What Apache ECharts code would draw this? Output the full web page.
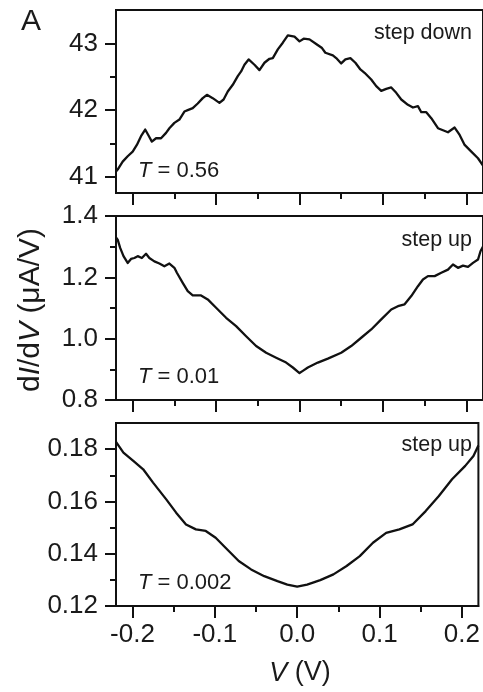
<!DOCTYPE html>
<html>
<head>
<meta charset="utf-8">
<script src="https://cdn.jsdelivr.net/npm/echarts@6/dist/echarts.min.js"></script>
<style>
  html, body { margin: 0; padding: 0; background: #fff; }
  #chart { width: 483px; height: 692px; }
</style>
</head>
<body>
<div id="chart"></div>
<script>
// Bias voltage (V) and differential conductance dI/dV (uA/V) for three transmissions
const vTop = [-0.22, -0.218, -0.212, -0.206, -0.200, -0.195, -0.190, -0.185, -0.181, -0.177, -0.172, -0.166, -0.160, -0.156, -0.150, -0.144, -0.138, -0.134, -0.128, -0.122, -0.116, -0.111, -0.104, -0.096, -0.091, -0.086, -0.080, -0.074, -0.070, -0.066, -0.061, -0.054, -0.048, -0.042, -0.036, -0.032, -0.026, -0.020, -0.014, -0.006, 0.0, 0.005, 0.012, 0.020, 0.027, 0.031, 0.040, 0.044, 0.050, 0.055, 0.061, 0.067, 0.073, 0.078, 0.086, 0.092, 0.098, 0.104, 0.110, 0.116, 0.122, 0.130, 0.136, 0.142, 0.146, 0.152, 0.158, 0.166, 0.172, 0.178, 0.186, 0.192, 0.198, 0.206, 0.214, 0.22];
const gTop = [41.08, 41.11, 41.23, 41.31, 41.38, 41.48, 41.61, 41.71, 41.62, 41.53, 41.58, 41.58, 41.66, 41.73, 41.81, 41.86, 41.98, 42.00, 42.03, 42.10, 42.18, 42.23, 42.18, 42.11, 42.16, 42.28, 42.38, 42.51, 42.58, 42.68, 42.76, 42.68, 42.60, 42.71, 42.77, 42.78, 42.91, 43.01, 43.12, 43.10, 43.03, 43.07, 43.06, 42.99, 42.93, 42.86, 42.82, 42.78, 42.70, 42.76, 42.78, 42.71, 42.61, 42.56, 42.46, 42.36, 42.29, 42.32, 42.34, 42.26, 42.16, 42.08, 42.04, 42.06, 41.97, 41.97, 41.88, 41.73, 41.70, 41.67, 41.74, 41.63, 41.48, 41.38, 41.28, 41.17];

const vMid = [-0.22, -0.218, -0.215, -0.211, -0.206, -0.202, -0.198, -0.194, -0.189, -0.184, -0.180, -0.174, -0.168, -0.162, -0.156, -0.150, -0.147, -0.140, -0.134, -0.128, -0.118, -0.110, -0.100, -0.088, -0.076, -0.064, -0.052, -0.040, -0.028, -0.016, -0.008, 0.0, 0.004, 0.010, 0.022, 0.034, 0.050, 0.062, 0.074, 0.086, 0.098, 0.110, 0.118, 0.126, 0.134, 0.142, 0.148, 0.154, 0.162, 0.170, 0.178, 0.184, 0.190, 0.196, 0.202, 0.208, 0.214, 0.217, 0.22];
const gMid = [1.330, 1.323, 1.296, 1.269, 1.247, 1.260, 1.263, 1.269, 1.263, 1.277, 1.263, 1.252, 1.245, 1.236, 1.245, 1.231, 1.215, 1.182, 1.155, 1.141, 1.141, 1.128, 1.101, 1.068, 1.041, 1.008, 0.976, 0.954, 0.938, 0.922, 0.906, 0.888, 0.895, 0.906, 0.922, 0.935, 0.954, 0.976, 1.003, 1.030, 1.063, 1.095, 1.106, 1.112, 1.139, 1.171, 1.193, 1.204, 1.204, 1.215, 1.225, 1.242, 1.231, 1.238, 1.234, 1.247, 1.258, 1.285, 1.300];

const vLow = [-0.22, -0.211, -0.199, -0.187, -0.175, -0.159, -0.147, -0.135, -0.123, -0.111, -0.099, -0.087, -0.071, -0.056, -0.040, -0.024, -0.012, 0.0, 0.012, 0.028, 0.044, 0.060, 0.076, 0.092, 0.108, 0.124, 0.140, 0.156, 0.172, 0.188, 0.204, 0.214, 0.22];
const gLow = [0.1828, 0.1787, 0.1755, 0.1723, 0.1672, 0.1608, 0.1557, 0.1512, 0.1493, 0.1487, 0.1461, 0.1423, 0.1372, 0.1340, 0.1314, 0.1295, 0.1282, 0.1274, 0.1282, 0.1299, 0.1321, 0.1353, 0.1391, 0.1442, 0.1480, 0.1493, 0.1512, 0.1563, 0.1621, 0.1685, 0.1736, 0.1774, 0.1814];

// Tick positions
const xMajorTicks = [-0.2, -0.1, 0.0, 0.1, 0.2];
const xMinorTicks = [-0.15, -0.05, 0.05, 0.15];
const yTicksTop = [41, 42, 43];
const yMinorTop = [41.5, 42.5];
const yTicksMid = [0.8, 1.0, 1.2, 1.4];
const yMinorMid = [0.9, 1.1, 1.3];
const yTicksLow = [0.12, 0.14, 0.16, 0.18];
const yMinorLow = [0.13, 0.15, 0.17];

// Panel annotations
const panelModes = ['step down', 'step up', 'step up'];
const panelT = ['0.56', '0.01', '0.002'];

const INK = '#111111';
const FONT = 'Liberation Sans, Arial, sans-serif';

const panels = [
  { top: 10, height: 183, min: 40.76, max: 43.5, ticks: yTicksTop, minor: yMinorTop, digits: 0, v: vTop, g: gTop },
  { top: 216, height: 184, min: 0.8, max: 1.4, ticks: yTicksMid, minor: yMinorMid, digits: 1, v: vMid, g: gMid },
  { top: 423, height: 183, min: 0.12, max: 0.19, ticks: yTicksLow, minor: yMinorLow, digits: 2, v: vLow, g: gLow }
];

const grid = [], xAxis = [], yAxis = [], series = [];
panels.forEach((p, i) => {
  // the frame's right side runs just past the page edge
  grid.push({ left: 116, right: -1, top: p.top, height: p.height, show: true,
              borderColor: INK, borderWidth: 2, backgroundColor: 'transparent' });
  const lastPanel = i === panels.length - 1;
  // major x ticks (with labels on the bottom panel)
  xAxis.push({
    type: 'value', gridIndex: i, min: -0.22, max: 0.22, position: 'bottom',
    axisLine: { show: true, onZero: false, lineStyle: { color: INK, width: 2 } },
    axisTick: { show: true, customValues: xMajorTicks, length: 12, lineStyle: { color: INK, width: 2 } },
    axisLabel: { show: lastPanel, customValues: xMajorTicks, margin: 16,
                 formatter: v => v.toFixed(1), color: '#1a1a1a', fontSize: 26, fontFamily: FONT },
    splitLine: { show: false }
  });
  // minor x ticks
  xAxis.push({
    type: 'value', gridIndex: i, min: -0.22, max: 0.22, position: 'bottom',
    axisLine: { show: false, onZero: false },
    axisTick: { show: true, customValues: xMinorTicks, length: 6, lineStyle: { color: INK, width: 2 } },
    axisLabel: { show: false },
    splitLine: { show: false }
  });
  // major y ticks with labels
  yAxis.push({
    type: 'value', gridIndex: i, min: p.min, max: p.max, position: 'left',
    axisLine: { show: true, onZero: false, lineStyle: { color: INK, width: 2 } },
    axisTick: { show: true, customValues: p.ticks, length: 11, lineStyle: { color: INK, width: 2 } },
    axisLabel: { show: true, customValues: p.ticks, margin: 18,
                 formatter: v => v.toFixed(p.digits), color: '#1a1a1a', fontSize: 26, fontFamily: FONT },
    splitLine: { show: false }
  });
  // minor y ticks
  yAxis.push({
    type: 'value', gridIndex: i, min: p.min, max: p.max, position: 'left',
    axisLine: { show: false, onZero: false },
    axisTick: { show: true, customValues: p.minor, length: 6, lineStyle: { color: INK, width: 2 } },
    axisLabel: { show: false },
    splitLine: { show: false }
  });
  series.push({
    type: 'line', xAxisIndex: 2 * i, yAxisIndex: 2 * i,
    data: p.v.map((v, k) => [v, p.g[k]]),
    showSymbol: false, smooth: false,
    lineStyle: { color: INK, width: 2.3, join: 'round' },
    clip: true, animation: false
  });
});

const textStyleBase = { fill: '#1a1a1a', fontFamily: FONT };
const graphic = [
  // panel letter
  { type: 'text', left: 21, top: 7, style: Object.assign({ text: 'A', fontSize: 30 }, textStyleBase) },
  // vertical axis title
  { type: 'text', x: 31, y: 310, rotation: Math.PI / 2,
    style: Object.assign({
      text: 'd{i|I}/d{i|V} (\u03bcA/V)', fontSize: 30, align: 'center', verticalAlign: 'middle',
      rich: { i: { fontStyle: 'italic', fontSize: 30, fontFamily: FONT, fill: '#1a1a1a' } }
    }, textStyleBase) },
  // horizontal axis title
  { type: 'text', x: 300, y: 673,
    style: Object.assign({
      text: '{i|V} (V)', fontSize: 27, align: 'center', verticalAlign: 'middle',
      rich: { i: { fontStyle: 'italic', fontSize: 27, fontFamily: FONT, fill: '#1a1a1a' } }
    }, textStyleBase) }
];
const modeY = [33, 240, 445];
const tY = [171, 377, 583];
panels.forEach((p, i) => {
  graphic.push({ type: 'text', x: 472, y: modeY[i],
    style: Object.assign({ text: panelModes[i], fontSize: 21.5, align: 'right', verticalAlign: 'middle' }, textStyleBase) });
  graphic.push({ type: 'text', x: 138, y: tY[i],
    style: Object.assign({
      text: '{i|T} = ' + panelT[i], fontSize: 22, align: 'left', verticalAlign: 'middle',
      rich: { i: { fontStyle: 'italic', fontSize: 22, fontFamily: FONT, fill: '#1a1a1a' } }
    }, textStyleBase) });
});

const chart = echarts.init(document.getElementById('chart'), null, { renderer: 'canvas' });
chart.setOption({
  animation: false,
  backgroundColor: '#ffffff',
  grid, xAxis, yAxis, series, graphic
});
</script>
</body>
</html>
